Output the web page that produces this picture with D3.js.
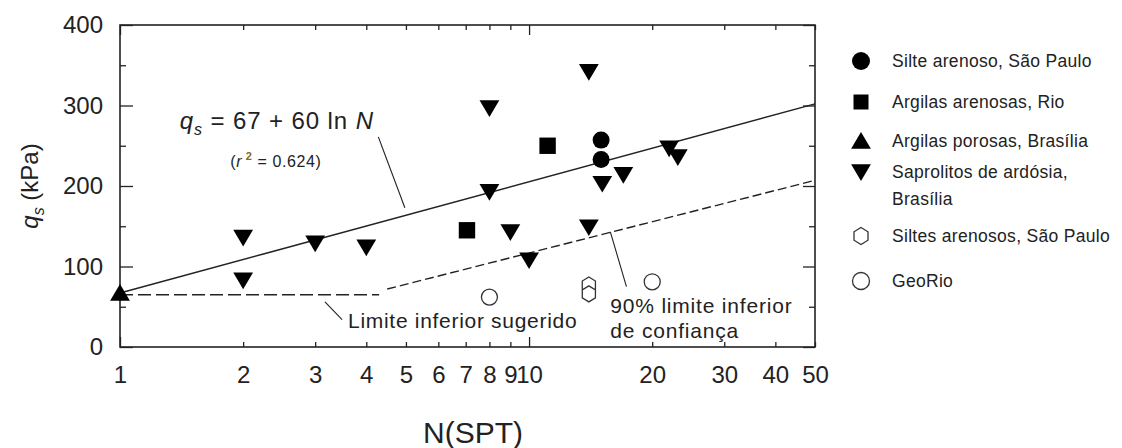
<!DOCTYPE html>
<html>
<head>
<meta charset="utf-8">
<script src="https://cdn.jsdelivr.net/npm/d3@7"></script>
<style>
  html, body { margin: 0; padding: 0; background: #fff; }
  svg { display: block; font-family: 'Liberation Sans', Arial, sans-serif; }
  .tick text { font-family: 'Liberation Sans', Arial, sans-serif; fill: #222; }
</style>
</head>
<body>
<svg id="chart" width="1122" height="448"></svg>
<script>
// data: [N(SPT), qs (kPa)] per soil group
const silteArenosoSP = [[15, 257], [15, 233]];
const argilasArenosasRio = [[7.05, 145], [11.1, 250]];
const argilasPorosasBsb = [[1, 67]];
const saprolitosBsb = [
  [2, 136], [2, 83], [3, 129], [4, 124], [8, 297], [8, 193], [9, 143],
  [10, 108], [14, 342], [14, 149], [15.1, 203], [17, 214], [22, 247], [23.1, 236]
];
const siltesArenososSP = [[14, 77], [14, 66]];
const geoRio = [[8, 62], [20, 81]];

// lines (end points)
const fitLine = [[1, 67], [50, 302]];
const lowerLimit90 = [[4.5, 72], [50, 207]];
const suggestedLimit = [[1, 65], [4.3, 65]];

// axes
const xTicks = [1, 2, 3, 4, 5, 6, 7, 8, 9, 10, 20, 30, 40, 50];
const yTicks = [0, 100, 200, 300, 400];
const yMinorTicks = [50, 150, 250, 350];

const legendLabels = [
  ['Silte arenoso, São Paulo'],
  ['Argilas arenosas, Rio'],
  ['Argilas porosas, Brasília'],
  ['Saprolitos de ardósia,', 'Brasília'],
  ['Siltes arenosos, São Paulo'],
  ['GeoRio']
];

// svg config
const margin = {left: 120, top: 25, right: 307, bottom: 101};
const width = 1122, height = 448;
const ink = '#222';

const svg = d3.select('#chart');

const x = d3.scaleLog()
  .domain([1, 50])
  .range([margin.left, width - margin.right]);
const y = d3.scaleLinear()
  .domain([0, 400])
  .range([height - margin.bottom, margin.top]);

const x0 = x.range()[0], x1 = x.range()[1];
const y0 = y.range()[0], y1 = y.range()[1];

// marker shapes
function markerPath(type, s) {
  const p = d3.path();
  if (type === 'circle') {
    p.arc(0, 0, s, 0, Math.PI * 2);
  } else if (type === 'square') {
    p.rect(-s, -s, 2 * s, 2 * s);
  } else if (type === 'up') {
    p.moveTo(0, -s); p.lineTo(s * 1.1, s * 0.85); p.lineTo(-s * 1.1, s * 0.85); p.closePath();
  } else if (type === 'down') {
    p.moveTo(0, s); p.lineTo(s * 1.1, -s * 0.85); p.lineTo(-s * 1.1, -s * 0.85); p.closePath();
  } else if (type === 'hex') {
    for (let i = 0; i < 6; i++) {
      const a = -Math.PI / 2 + i * Math.PI / 3;
      const px = s * 0.95 * Math.cos(a), py = s * Math.sin(a);
      if (i === 0) p.moveTo(px, py); else p.lineTo(px, py);
    }
    p.closePath();
  }
  return p.toString();
}

const series = [
  {data: silteArenosoSP, type: 'circle', size: 8.5, legendSize: 9, filled: true},
  {data: argilasArenosasRio, type: 'square', size: 8.2, legendSize: 7.5, filled: true},
  {data: argilasPorosasBsb, type: 'up', size: 9, legendSize: 9, filled: true},
  {data: saprolitosBsb, type: 'down', size: 9, legendSize: 9, filled: true},
  {data: siltesArenososSP, type: 'hex', size: 8, legendSize: 8.5, filled: false},
  {data: geoRio, type: 'circle', size: 8, legendSize: 8.5, filled: false}
];

// y axis (left, ticks inward)
const yAxisNode = svg.append('g')
  .attr('transform', `translate(${x0},0)`)
  .call(d3.axisLeft(y).tickValues(yTicks).tickSize(-13).tickPadding(17));
yAxisNode.selectAll('.tick text').style('font-size', '24px');
svg.append('g')
  .attr('transform', `translate(${x0},0)`)
  .call(d3.axisLeft(y).tickValues(yMinorTicks).tickSize(-6).tickFormat(''));

// right axis
svg.append('g')
  .attr('transform', `translate(${x1},0)`)
  .call(d3.axisRight(y).tickValues(yTicks).tickSize(-12).tickFormat(''));
svg.append('g')
  .attr('transform', `translate(${x1},0)`)
  .call(d3.axisRight(y).tickValues(yMinorTicks).tickSize(-6).tickFormat(''));

// x axis bottom
const isDecade = d => d === 1 || d === 10;
const xAxisNode = svg.append('g')
  .attr('transform', `translate(0,${y0})`)
  .call(d3.axisBottom(x).tickValues(xTicks).tickSize(0).tickPadding(19).tickFormat(d3.format('d')));
xAxisNode.selectAll('.tick line').attr('y2', d => isDecade(d) ? -10 : -5);
xAxisNode.selectAll('.tick text').style('font-size', '24px');

// x axis top
const xTopNode = svg.append('g')
  .attr('transform', `translate(0,${y1})`)
  .call(d3.axisTop(x).tickValues(xTicks).tickSize(0).tickFormat(''));
xTopNode.selectAll('.tick line').attr('y2', d => isDecade(d) ? 10 : 5);

svg.selectAll('.domain').remove();
svg.selectAll('.tick line').attr('stroke', ink).attr('stroke-width', 1.3);

// frame
svg.append('rect')
  .attr('x', x0).attr('y', y1)
  .attr('width', x1 - x0).attr('height', y0 - y1)
  .attr('fill', 'none').attr('stroke', ink).attr('stroke-width', 1.6);

// lines
const line = d3.line().x(d => x(d[0])).y(d => y(d[1]));
svg.append('path').datum(fitLine)
  .attr('d', line).attr('fill', 'none').attr('stroke', ink).attr('stroke-width', 1.5);
svg.append('path').datum(lowerLimit90)
  .attr('d', line).attr('fill', 'none').attr('stroke', ink).attr('stroke-width', 1.4)
  .attr('stroke-dasharray', '9,4');
svg.append('path').datum(suggestedLimit)
  .attr('d', line).attr('fill', 'none').attr('stroke', ink).attr('stroke-width', 1.4)
  .attr('stroke-dasharray', '13,5');

// leader lines (data units)
const leaders = [
  [[4.28, 261], [4.97, 173]],
  [[3.17, 56], [3.49, 34]],
  [[15.8, 143], [17.3, 75]]
];
svg.append('g').selectAll('path').data(leaders).enter().append('path')
  .attr('d', line).attr('fill', 'none').attr('stroke', ink).attr('stroke-width', 1.1);

// markers
series.forEach(s => {
  svg.append('g').selectAll('path').data(s.data).enter().append('path')
    .attr('d', markerPath(s.type, s.size))
    .attr('transform', d => `translate(${x(d[0])},${y(d[1])})`)
    .attr('fill', s.filled ? '#000' : '#fff')
    .attr('stroke', s.filled ? 'none' : '#333')
    .attr('stroke-width', 1.3);
});

// annotations
const eq = svg.append('text')
  .attr('x', x(1.40)).attr('y', y(271))
  .attr('fill', ink).style('font-size', '24px').style('letter-spacing', '0.9px');
eq.append('tspan').style('font-style', 'italic').text('q');
eq.append('tspan').style('font-style', 'italic').style('font-size', '16px').attr('dy', 6).text('s');
eq.append('tspan').attr('dy', -6).text(' = 67 + 60 ln ');
eq.append('tspan').style('font-style', 'italic').text('N');

const r2 = svg.append('text')
  .attr('x', x(1.86)).attr('y', y(224))
  .attr('fill', ink).style('font-size', '16px').style('letter-spacing', '0.6px');
r2.append('tspan').text('(');
r2.append('tspan').style('font-style', 'italic').text('r');
r2.append('tspan').attr('dy', -7).style('font-size', '11px').attr('fill', '#7d6a1e').style('font-weight', 'bold').text(' 2');
r2.append('tspan').attr('dy', 7).text(' = 0.624)');

svg.append('text')
  .attr('x', x(3.61)).attr('y', y(24))
  .attr('fill', ink).style('font-size', '21px').style('letter-spacing', '0.7px')
  .text('Limite inferior sugerido');

const conf = svg.append('text')
  .attr('fill', ink).style('font-size', '21px').style('letter-spacing', '0.8px');
conf.append('tspan').attr('x', x(15.8)).attr('y', y(42)).text('90% limite inferior');
conf.append('tspan').attr('x', x(15.8)).attr('y', y(11)).text('de confiança');

// axis titles
svg.append('text')
  .attr('x', 473).attr('y', 443)
  .attr('text-anchor', 'middle').attr('fill', ink)
  .style('font-size', '30px')
  .text('N(SPT)');

const yTitle = svg.append('text')
  .attr('transform', `translate(38,${(y0 + y1) / 2}) rotate(-90)`)
  .attr('text-anchor', 'middle').attr('fill', ink)
  .style('font-size', '24px');
yTitle.append('tspan').style('font-style', 'italic').text('q');
yTitle.append('tspan').style('font-style', 'italic').style('font-size', '16px').attr('dy', 6).text('s');
yTitle.append('tspan').attr('dy', -6).text('  (kPa)');

// legend
const legendRows = [61, 102, 141, 172, 236, 281];
const legend = svg.append('g');
series.forEach((s, i) => {
  const ly = legendRows[i];
  legend.append('path')
    .attr('d', markerPath(s.type, s.legendSize))
    .attr('transform', `translate(861,${ly})`)
    .attr('fill', s.filled ? '#000' : '#fff')
    .attr('stroke', s.filled ? 'none' : '#333')
    .attr('stroke-width', 1.3);
  const t = legend.append('text')
    .attr('fill', ink).style('font-size', '17.5px').style('letter-spacing', '0.3px');
  legendLabels[i].forEach((l, j) => {
    t.append('tspan').attr('x', 892).attr('y', ly + 6 + j * 27).text(l);
  });
});
</script>
</body>
</html>
